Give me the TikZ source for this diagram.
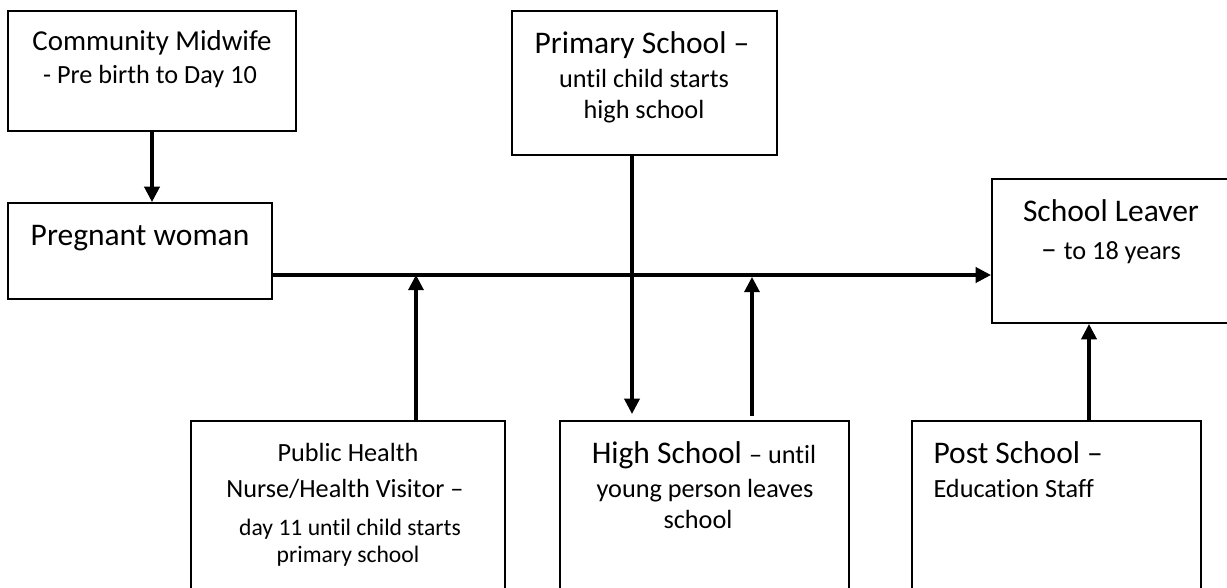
\documentclass[tikz,border=0pt]{standalone}
\usepackage{fontspec}
\setmainfont{Carlito}[Ligatures=NoCommon]
\usetikzlibrary{arrows.meta,fit}
\newcommand{\szA}{\fontsize{12}{14}\selectfont}
\newcommand{\szB}{\fontsize{11}{13}\selectfont}
\newcommand{\szC}{\fontsize{10}{12}\selectfont}
\newcommand{\szD}{\fontsize{9}{11}\selectfont}
\begin{document}
\begin{tikzpicture}[x=0.381pt,y=-0.381pt,
  box/.style={draw, line width=0.8pt, inner sep=0pt},
  txt/.style={inner sep=0pt, anchor=base},
  txtl/.style={inner sep=0pt, anchor=base west},
  conn/.style={line width=1.15pt},
  arr/.style={conn, -{Triangle[length=5.8pt,width=5.8pt]}}]
\useasboundingbox (0,0) rectangle (1227,588);
\clip (0,0) rectangle (1227,588);

% boxes
\node[box, fit={(8,11) (296,131)}] (mid) {};
\node[box, fit={(8,203) (272,299)}] (preg) {};
\node[box, fit={(512,11) (777,155)}] (prim) {};
\node[box, fit={(992,179) (1232,323)}] (leav) {};
\node[box, fit={(191,421) (505,620)}] (phn) {};
\node[box, fit={(560,421) (849,620)}] (high) {};
\node[box, fit={(912,421) (1201,620)}] (post) {};

% texts
\node[txt] (midA) at (152,50) {\szB Community Midwife};
\node[txt] (midB) at (150,83) {\szC - Pre birth to Day 10};
\node[txt] (pregA) at (140,245) {\szA Pregnant woman};
\node[txt] (primA) at (642,53) {\szA Primary School –};
\node[txt] (primB) at (644,87) {\szC until child starts};
\node[txt] (primC) at (644,118) {\szC high school};
\node[txt] (leavA) at (1111,221) {\szA School Leaver};
\node[txt] (leavB) at (1111,259) {\szA – \szC to 18 years};
\node[txt] (phnA) at (348,461) {\szC Public Health};
\node[txt] (phnB) at (345,497) {\szC Nurse/Health Visitor –};
\node[txt] (phnC) at (350,535) {\szD day 11 until child starts};
\node[txt] (phnD) at (348,562) {\szD primary school};
\node[txt] (highA) at (704,463) {\szA High School \szC – until};
\node[txt] (highB) at (705,497) {\szC young person leaves};
\node[txt] (highC) at (698,528) {\szC school};
\node[txtl] (postA) at (933,463) {\szA Post School –};
\node[txtl] (postB) at (933,497) {\szC Education Staff};

% junctions on the main line
\coordinate (trunk) at (0,275);
\coordinate (jA) at (416,275);
\coordinate (jB) at (752,277);

% connectors
\draw[arr] (mid.south -| 152,0) -- (preg.north -| 152,0);
\draw[arr] (preg.east |- trunk) -- (leav.west |- trunk);
\draw[arr] (prim.south -| 632,0) -- ([yshift=2.3pt]high.north -| 632,0);
\draw[arr] (phn.north -| jA) -- (jA);
\draw[arr] ([yshift=1.5pt]high.north -| jB) -- (jB);
\draw[arr] (post.north -| 1089,0) -- (leav.south -| 1089,0);
\end{tikzpicture}
\end{document}
